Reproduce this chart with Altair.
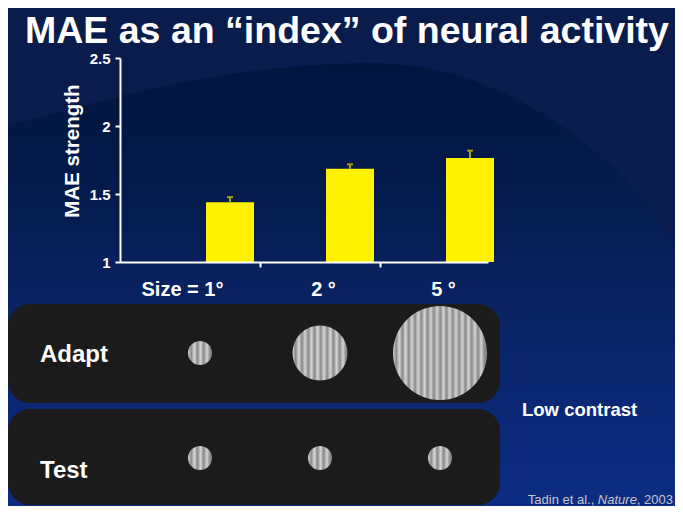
import altair as alt
import pandas as pd

# ---------------- data ----------------
TITLE = "MAE as an \u201cindex\u201d of neural activity"
Y_TITLE = "MAE strength"
SIZE_LABELS = ["Size = 1°", "2 °", "5 °"]
SIZE_DEG = [1, 2, 5]
MAE = [1.44, 1.685, 1.765]
MAE_ERR = [0.037, 0.033, 0.054]
Y_TICKS = [1, 1.5, 2, 2.5]
ROWS = ["Adapt", "Test"]
ADAPT_DEG = [1, 2, 5]
TEST_DEG = [1, 1, 1]
NOTE = "Low contrast"
CITE = ["Tadin et al.,", "Nature", ", 2003"]

# ---------------- style / layout ----------------
FONT = "Liberation Sans"
W, H = 368, 204
PAD = {"left": 112, "top": 50, "right": 187, "bottom": 244}
BG = "#041640"
YELLOW = "#fff200"
ERR_COLOR = "#a89f12"
PANEL = "#1b1b1b"
WHITE = "#ffffff"
CITE_COLOR = "#c4c6cc"
STRIPE_LIGHT = "#d4d4d4"
STRIPE_DARK = "#8a8a8a"
STRIPE_PERIOD = 6.3
DIAM = {1: 24, 2: 55, 5: 94}
ROW_Y = {"Adapt": 295, "Test": 400}

XS = alt.Scale(domain=[-1 / 6, 2.9], nice=False, zero=False)
YS = alt.Scale(domain=[1, 2.5], nice=False, zero=False)
SS = alt.Scale(domain=SIZE_DEG, range=[DIAM[d] ** 2 for d in SIZE_DEG])


def one(text):
    return alt.Chart(pd.DataFrame({"t": [text]}))


def txt(text, x, y, size, weight="normal", color=WHITE, align="left", style="normal"):
    return one(text).mark_text(
        font=FONT, fontSize=size, fontWeight=weight, color=color,
        align=align, baseline="alphabetic", fontStyle=style,
    ).encode(text="t:N", x=alt.value(x), y=alt.value(y))


def stripes(d):
    half = STRIPE_PERIOD / 2 / d
    stops, j = [], 0
    while j * half <= 1.0:
        stops.append(alt.GradientStop(color=STRIPE_LIGHT if j % 2 == 0 else STRIPE_DARK,
                                      offset=round(j * half, 4)))
        j += 1
    return alt.LinearGradient(gradient="linear", stops=stops, x1=0, x2=1, y1=0, y2=0)


label_expr = " : ".join(
    f"datum.value == {i + 0.5} ? '{lab}'" for i, lab in enumerate(SIZE_LABELS)
) + " : ''"

X_AXIS = alt.Axis(
    values=[0.5, 1, 1.5, 2, 2.5], labelExpr=label_expr, title=None, grid=False,
    domainColor=WHITE, domainWidth=2, tickColor=WHITE, tickWidth=2, tickSize=5,
    tickOpacity={"condition": {"test": "datum.value % 1 == 0", "value": 1}, "value": 0},
    labelColor=WHITE, labelFont=FONT, labelFontSize=20, labelFontWeight="bold",
    labelPadding=28, labelBaseline="alphabetic",
    labelOffset={"condition": {"test": "datum.value == 0.5", "value": -18}, "value": 3},
    labelOverlap=False, labelFlush=False, zindex=1,
)
Y_AXIS = alt.Axis(
    values=Y_TICKS, format="~g", title=Y_TITLE, grid=False,
    domainColor=WHITE, domainWidth=2, tickColor=WHITE, tickWidth=2, tickSize=5,
    labelColor=WHITE, labelFont=FONT, labelFontSize=15, labelFontWeight="bold",
    labelPadding=5,
    titleColor=WHITE, titleFont=FONT, titleFontSize=20.5, titleFontWeight="bold",
    titleAngle=270, titleX=-42, titleY=92.5, titleAlign="center",
    titleBaseline="alphabetic", zindex=1,
)

# ---------------- background ----------------
bg_grad = alt.LinearGradient(
    gradient="linear", x1=0, y1=0, x2=0, y2=1,
    stops=[
        alt.GradientStop(color="#03133a", offset=0),
        alt.GradientStop(color="#041a4a", offset=0.35),
        alt.GradientStop(color="#08215f", offset=0.55),
        alt.GradientStop(color="#0b2874", offset=0.8),
        alt.GradientStop(color="#0d2d84", offset=1),
    ],
)
background = one("").mark_rect(fill=bg_grad, opacity=1).encode(
    x=alt.value(-PAD["left"]), x2=alt.value(W + PAD["right"]),
    y=alt.value(-PAD["top"]), y2=alt.value(H + PAD["bottom"]),
)
ARC_PATH = ("M-125,-55 L560,-55 L560,197 C540,150 420,0 240,5 "
            "C120,8 20,30 -125,72 Z")
arc = one("").mark_point(shape=ARC_PATH, size=4, filled=True, fill="#0a1c4c",
                         opacity=1, strokeWidth=0).encode(x=alt.value(0), y=alt.value(0))

# ---------------- stimulus panels ----------------
panel_adapt = one("").mark_rect(fill=PANEL, cornerRadius=22, opacity=1).encode(
    x=alt.value(-112), x2=alt.value(380), y=alt.value(246), y2=alt.value(345))
panel_test = one("").mark_rect(fill=PANEL, cornerRadius=22, opacity=1).encode(
    x=alt.value(-112), x2=alt.value(380), y=alt.value(351), y2=alt.value(447))

stim_rows = []
for row, degs in zip(ROWS, [ADAPT_DEG, TEST_DEG]):
    for i, d in enumerate(degs):
        stim_rows.append({"row": row, "idx": i, "deg": d})
stim = pd.DataFrame(stim_rows)

circle_layers = []
for row in ROWS:
    for d in sorted(set(stim[stim.row == row].deg)):
        circle_layers.append(
            alt.Chart(stim)
            .transform_filter(f"datum.row == '{row}' && datum.deg == {d}")
            .transform_calculate(cx="datum.idx + 0.5")
            .mark_point(shape="circle", filled=True, fill=stripes(DIAM[d]),
                        opacity=1, strokeWidth=0)
            .encode(
                x=alt.X("cx:Q", scale=XS, axis=X_AXIS),
                y=alt.value(ROW_Y[row]),
                size=alt.Size("deg:Q", scale=SS, legend=None),
            )
        )

# ---------------- bar chart ----------------
bars_df = pd.DataFrame({"label": SIZE_LABELS, "deg": SIZE_DEG, "mae": MAE, "err": MAE_ERR})
bars_df["idx"] = range(len(SIZE_LABELS))

base = alt.Chart(bars_df).transform_calculate(
    x0="datum.idx + 0.55", x1="datum.idx + 0.95", xc="datum.idx + 0.75",
    hi="datum.mae + datum.err",
)
bars = base.mark_bar(color=YELLOW, opacity=1).encode(
    x=alt.X("x0:Q", scale=XS, axis=X_AXIS),
    x2="x1:Q",
    y=alt.Y("mae:Q", scale=YS, axis=Y_AXIS),
    y2=alt.datum(1),
)
err_stem = base.mark_rule(color=ERR_COLOR, strokeWidth=2).encode(
    x=alt.X("xc:Q", scale=XS, axis=X_AXIS),
    y=alt.Y("mae:Q", scale=YS, axis=Y_AXIS),
    y2="hi:Q",
)
err_cap = base.mark_tick(color=ERR_COLOR, orient="horizontal", size=6, thickness=2,
                         opacity=1).encode(
    x=alt.X("xc:Q", scale=XS, axis=X_AXIS),
    y=alt.Y("hi:Q", scale=YS, axis=Y_AXIS),
)

# ---------------- texts ----------------
title = txt(TITLE, -95, -15, 37.5, "bold")
adapt_lbl = txt(ROWS[0], -80, 304, 24, "bold")
test_lbl = txt(ROWS[1], -80, 420, 24, "bold")
note = txt(NOTE, 402, 358, 18.5, "bold")
CITE_R = 553
cite_a = txt(CITE[2], CITE_R, 446, 13, color=CITE_COLOR, align="right")
cite_b = txt(CITE[1], CITE_R - 36.1, 446, 13, color=CITE_COLOR, align="right", style="italic")
cite_c = txt(CITE[0], CITE_R - 36.1 - 39.0 - 3.6, 446, 13, color=CITE_COLOR, align="right")

chart = alt.layer(
    background, arc, panel_adapt, panel_test, *circle_layers,
    adapt_lbl, test_lbl, note, cite_a, cite_b, cite_c,
    bars, err_stem, err_cap, title,
).properties(
    width=W, height=H, padding=PAD,
    autosize=alt.AutoSizeParams(type="none"), background=BG,
).configure_view(stroke=None)

chart.save("out.html", embed_options={"renderer": "svg", "actions": False})
